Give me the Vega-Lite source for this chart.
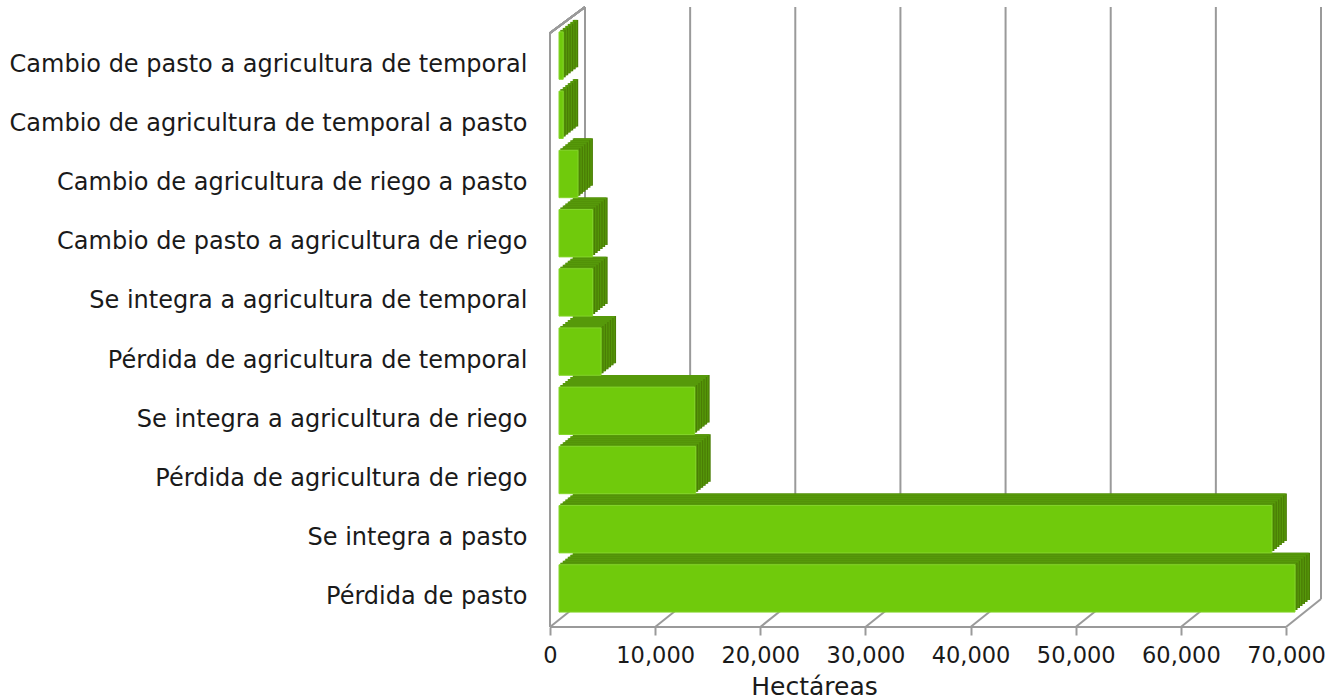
{
  "$schema": "https://vega.github.io/schema/vega-lite/v6.json",
  "autosize": {"type": "none"},
  "width": 736,
  "height": 592,
  "padding": {"left": 559, "top": 35, "right": 43, "bottom": 73},
  "background": "white",
  "config": {"view": {"stroke": null}, "font": "DejaVu Sans"},
  "datasets": {
    "bars": [
      {"cat": "Cambio de pasto a agricultura de temporal", "value": 400},
      {"cat": "Cambio de agricultura de temporal a pasto", "value": 400},
      {"cat": "Cambio de agricultura de riego a pasto", "value": 1800},
      {"cat": "Cambio de pasto a agricultura de riego", "value": 3200},
      {"cat": "Se integra a agricultura de temporal", "value": 3200},
      {"cat": "Pérdida de agricultura de temporal", "value": 4000},
      {"cat": "Se integra a agricultura de  riego", "value": 12900},
      {"cat": "Pérdida de agricultura de riego", "value": 13000},
      {"cat": "Se integra a pasto", "value": 67800},
      {"cat": "Pérdida de pasto", "value": 70000}
    ],
    "ticks": [
      {"t": 0}, {"t": 10000}, {"t": 20000}, {"t": 30000},
      {"t": 40000}, {"t": 50000}, {"t": 60000}, {"t": 70000}
    ]
  },
  "resolve": {"scale": {"y": "independent"}, "axis": {"y": "independent"}},
  "layer": [
    {
      "data": {"name": "ticks"},
      "layer": [
        {
          "mark": {"type": "rule", "color": "#9a9a9a", "strokeWidth": 2, "xOffset": 26, "yOffset": -28, "y2Offset": -28},
          "encoding": {
            "x": {"field": "t", "type": "quantitative", "scale": {"domain": [0, 70000], "nice": false},
                  "axis": {"values": [0, 10000, 20000, 30000, 40000, 50000, 60000, 70000], "format": ",d", "grid": false, "domain": false,
                           "tickOffset": -9, "tickSize": 8, "tickWidth": 2, "tickColor": "#9a9a9a",
                           "labelOverlap": false, "labelFlush": false,
                           "labelFontSize": 22.5, "labelColor": "#1a1a1a", "labelPadding": 9,
                           "title": "Hectáreas", "titleFontSize": 25, "titleFontWeight": "normal", "titleColor": "#1a1a1a",
                           "titleX": 255, "titleY": 59, "titleBaseline": "middle", "titleAlign": "center"}},
            "y": {"datum": 0, "type": "quantitative", "scale": {"domain": [0, 1], "nice": false}, "axis": null},
            "y2": {"datum": 1}
          }
        },
        {
          "mark": {"type": "rule", "color": "#9a9a9a", "strokeWidth": 2, "xOffset": -9, "x2Offset": 26, "yOffset": 0, "y2Offset": -28},
          "encoding": {
            "x": {"field": "t", "type": "quantitative"},
            "x2": {"field": "t"},
            "y": {"datum": 0, "type": "quantitative"},
            "y2": {"datum": 0}
          }
        },
        {
          "mark": {"type": "rule", "color": "#9a9a9a", "strokeWidth": 2, "xOffset": -9, "x2Offset": -9},
          "encoding": {
            "x": {"datum": 0, "type": "quantitative"},
            "x2": {"datum": 70000},
            "y": {"datum": 0, "type": "quantitative"},
            "y2": {"datum": 0}
          }
        },
        {
          "mark": {"type": "rule", "color": "#9a9a9a", "strokeWidth": 2, "xOffset": -9, "x2Offset": -9, "y2Offset": -2},
          "encoding": {
            "x": {"datum": 0, "type": "quantitative"},
            "x2": {"datum": 0},
            "y": {"datum": 0, "type": "quantitative"},
            "y2": {"datum": 1}
          }
        },
        {
          "mark": {"type": "rule", "color": "#9a9a9a", "strokeWidth": 2, "xOffset": -9, "x2Offset": 26, "yOffset": -2, "y2Offset": -28},
          "encoding": {
            "x": {"datum": 0, "type": "quantitative"},
            "x2": {"datum": 0},
            "y": {"datum": 1, "type": "quantitative"},
            "y2": {"datum": 1}
          }
        }
      ]
    },
    {
      "data": {"name": "bars"},
      "encoding": {
        "x": {"field": "value", "type": "quantitative"},
        "y": {"field": "cat", "type": "nominal", "sort": null, "scale": {"paddingInner": 0.2, "paddingOuter": 0.1},
              "axis": {"orient": "left", "title": null, "domain": false, "ticks": false, "labelPadding": 32, "labelFontSize": 24, "labelColor": "#1a1a1a", "labelLimit": 600}}
      },
      "layer": [
        {"mark": {"type": "bar", "color": "#4a7d05", "xOffset": 15, "x2Offset": 15, "yOffset": -21, "y2Offset": -21}},
        {"mark": {"type": "bar", "color": "#56990a", "xOffset": 13.75, "x2Offset": 15, "yOffset": -21, "y2Offset": -21}},
        {"mark": {"type": "bar", "color": "#4a7d05", "xOffset": 12.5, "x2Offset": 12.5, "yOffset": -19, "y2Offset": -19}},
        {"mark": {"type": "bar", "color": "#56990a", "xOffset": 11.25, "x2Offset": 12.5, "yOffset": -19, "y2Offset": -19}},
        {"mark": {"type": "bar", "color": "#4a7d05", "xOffset": 10, "x2Offset": 10, "yOffset": -17, "y2Offset": -17}},
        {"mark": {"type": "bar", "color": "#56990a", "xOffset": 8.75, "x2Offset": 10, "yOffset": -17, "y2Offset": -17}},
        {"mark": {"type": "bar", "color": "#4a7d05", "xOffset": 7.5, "x2Offset": 7.5, "yOffset": -15, "y2Offset": -15}},
        {"mark": {"type": "bar", "color": "#56990a", "xOffset": 6.25, "x2Offset": 7.5, "yOffset": -15, "y2Offset": -15}},
        {"mark": {"type": "bar", "color": "#4a7d05", "xOffset": 5, "x2Offset": 5, "yOffset": -13, "y2Offset": -13}},
        {"mark": {"type": "bar", "color": "#56990a", "xOffset": 3.75, "x2Offset": 5, "yOffset": -13, "y2Offset": -13}},
        {"mark": {"type": "bar", "color": "#4a7d05", "xOffset": 2.5, "x2Offset": 2.5, "yOffset": -11, "y2Offset": -11}},
        {"mark": {"type": "bar", "color": "#56990a", "xOffset": 1.25, "x2Offset": 2.5, "yOffset": -11, "y2Offset": -11}},
        {"mark": {"type": "bar", "color": "#70ca0c", "stroke": "#84d52a", "strokeWidth": 1, "yOffset": -9, "y2Offset": -9}}
      ]
    }
  ]
}
